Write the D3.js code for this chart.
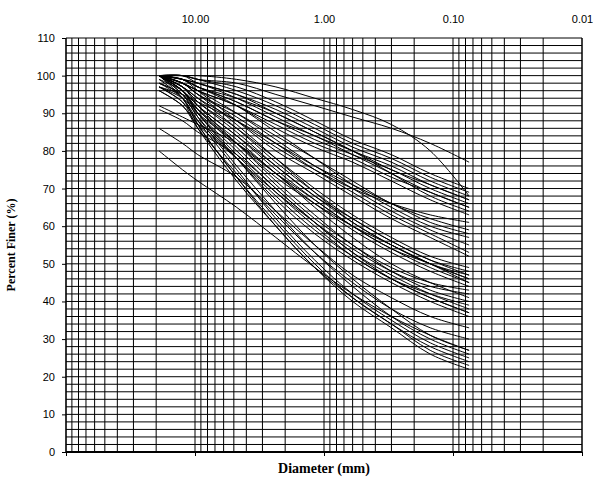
<!DOCTYPE html>
<html>
<head>
<meta charset="utf-8">
<script src="https://cdn.jsdelivr.net/npm/d3@7"></script>
<style>
body { margin: 0; background: #fff; }
svg { display: block; }
</style>
</head>
<body>
<svg id="chart" width="593" height="480"></svg>
<script>
// sieve sizes (mm)
var sieves = [19, 12.5, 9.5, 4.75, 2.36, 1.18, 0.6, 0.3, 0.15, 0.075];

// percent passing, one array per sample
var topBand = [
	[100,100,100,99,97,94,91,87,80,68],
	[100,100,99,98,95,92,89,86,82,77],
	[100,100,99,97,93,88,83,79,74,70],
	[100,100,99,96,92,87,82,78,73,69],
	[100,99,98,95,91,86,81,77,72,68],
	[100,100,98,95,90,85,80,76,71,67],
	[100,99,98,94,89,84,80,75,71,67],
	[100,99,97,93,88,83,79,75,70,66],
	[100,99,97,93,88,84,79,74,69,65],
	[100,98,96,92,87,82,78,73,69,65],
	[100,99,97,94,90,85,80,74,68,64],
	[100,98,96,92,86,81,77,72,67,63]
];
var midBand = [
	[100,99,97,92,85,78,71,65,60,57],
	[100,98,96,90,83,76,70,64,59,55],
	[100,98,95,89,82,75,69,63,58,53],
	[100,99,96,88,80,74,68,62,57,52],
	[100,97,94,88,81,75,70,66,63,61],
	[100,98,95,90,84,78,72,66,62,59],
	[97,95,93,88,82,76,71,66,61,58]
];
var lowMidBand = [
	[100,97,93,86,78,70,63,57,52,49],
	[100,97,94,86,77,69,62,56,51,47],
	[99,96,92,84,76,68,61,55,50,46],
	[100,96,92,84,75,67,60,54,49,45],
	[98,95,91,83,74,66,59,53,48,44],
	[100,98,95,87,78,69,61,55,50,47],
	[100,97,93,85,76,68,62,56,51,48],
	[97,94,90,82,74,67,60,54,50,46],
	[100,96,91,82,73,66,60,55,50,45]
];
var lowBand = [
	[100,96,91,81,71,62,55,48,43,40],
	[98,95,90,80,70,61,53,47,42,38],
	[100,96,90,79,69,60,52,46,41,37],
	[97,93,88,78,68,59,52,46,42,39],
	[100,95,89,78,67,58,51,45,40,36],
	[96,92,87,78,69,61,54,48,44,42],
	[100,97,92,82,72,63,55,49,45,43],
	[92,89,87,82,74,65,57,50,45,41],
	[91,88,85,79,70,61,53,46,41,37]
];
var bottomBand = [
	[100,95,89,76,64,53,44,36,30,26],
	[98,94,88,75,62,51,42,35,29,25],
	[99,94,87,73,61,50,41,34,28,24],
	[97,93,86,72,60,49,41,34,27,23],
	[100,94,87,73,60,49,40,33,26,22],
	[96,92,86,74,63,53,45,38,33,30],
	[100,96,90,78,66,55,46,38,31,27],
	[86,82,79,73,64,55,47,41,36,33],
	[80,75,72,65,57,49,42,36,31,27]
];

var xTicks = [10, 1, 0.1, 0.01];
var xTickLabels = ["10.00", "1.00", "0.10", "0.01"];
var yTicks = d3.range(0, 111, 10);

var samples = topBand.concat(midBand, lowMidBand, lowBand, bottomBand);

var svg = d3.select("#chart");
var pLeft = 66, pRight = 582, pTop = 38, pBottom = 452;

var x = d3.scaleLog().domain([100, 0.01]).range([pLeft, pRight]);
var y = d3.scaleLinear().domain([0, 110]).range([pBottom, pTop]);

// grid: vertical lines at 1..9 of each decade
var vgrid = [];
[10, 1, 0.1, 0.01].forEach(function(dec) {
	for (var k = 1; k <= 9; k++) {
		var v = dec * k;
		if (v < 100) vgrid.push(v);
	}
});
svg.append("g").selectAll("line").data(vgrid).enter().append("line")
	.attr("x1", function(d) { return x(d); })
	.attr("x2", function(d) { return x(d); })
	.attr("y1", pTop).attr("y2", pBottom)
	.attr("stroke", "#000").attr("stroke-width", 1);

// horizontal lines every 2 %
svg.append("g").selectAll("line").data(d3.range(2, 111, 2)).enter().append("line")
	.attr("x1", pLeft).attr("x2", pRight)
	.attr("y1", function(d) { return y(d); })
	.attr("y2", function(d) { return y(d); })
	.attr("stroke", "#000").attr("stroke-width", 1);

// frame
svg.append("line").attr("x1", pRight).attr("x2", pRight).attr("y1", pTop).attr("y2", pBottom)
	.attr("stroke", "#000").attr("stroke-width", 1);
svg.append("line").attr("x1", pLeft).attr("x2", pLeft).attr("y1", pTop).attr("y2", pBottom)
	.attr("stroke", "#000").attr("stroke-width", 1.6);

// curves
var line = d3.line()
	.x(function(d, i) { return x(sieves[i]); })
	.y(function(d) { return y(d); })
	.curve(d3.curveCatmullRom.alpha(0.5));

svg.append("g").selectAll("path").data(samples).enter().append("path")
	.attr("d", line)
	.attr("fill", "none")
	.attr("stroke", "#000")
	.attr("stroke-width", 1);

// y axis
var yAxis = d3.axisLeft(y).tickValues(yTicks).tickSize(4).tickFormat(d3.format("d"));
var ya = svg.append("g").attr("transform", "translate(" + pLeft + ",0)").call(yAxis);
ya.select(".domain").remove();
ya.selectAll("text").attr("font-family", "Liberation Sans, Arial, sans-serif")
	.attr("font-size", 11).attr("fill", "#000").attr("dx", "-4");

// bottom axis line with decade ticks
var xAxis = d3.axisBottom(x).tickValues([100].concat(xTicks)).tickSize(4).tickFormat("");
var xa = svg.append("g").attr("transform", "translate(0," + pBottom + ")").call(xAxis);
xa.select(".domain").attr("stroke-width", 2).attr("d", "M" + pLeft + ",0H" + pRight);

// top labels
var xt = d3.axisTop(x).tickValues(xTicks).tickSize(0)
	.tickFormat(function(d, i) { return xTickLabels[i]; });
var xta = svg.append("g").attr("transform", "translate(0," + (pTop - 12) + ")").call(xt);
xta.select(".domain").remove();
xta.selectAll("text").attr("font-family", "Liberation Sans, Arial, sans-serif")
	.attr("font-size", 11).attr("fill", "#000");

// titles
svg.append("text")
	.attr("x", 324).attr("y", 473)
	.attr("text-anchor", "middle")
	.attr("font-family", "Liberation Serif, Times New Roman, serif")
	.attr("font-weight", "bold").attr("font-size", 14)
	.text("Diameter (mm)");

svg.append("text")
	.attr("transform", "translate(15,245) rotate(-90)")
	.attr("text-anchor", "middle")
	.attr("font-family", "Liberation Serif, Times New Roman, serif")
	.attr("font-weight", "bold").attr("font-size", 12)
	.text("Percent Finer (%)");
</script>
</body>
</html>
